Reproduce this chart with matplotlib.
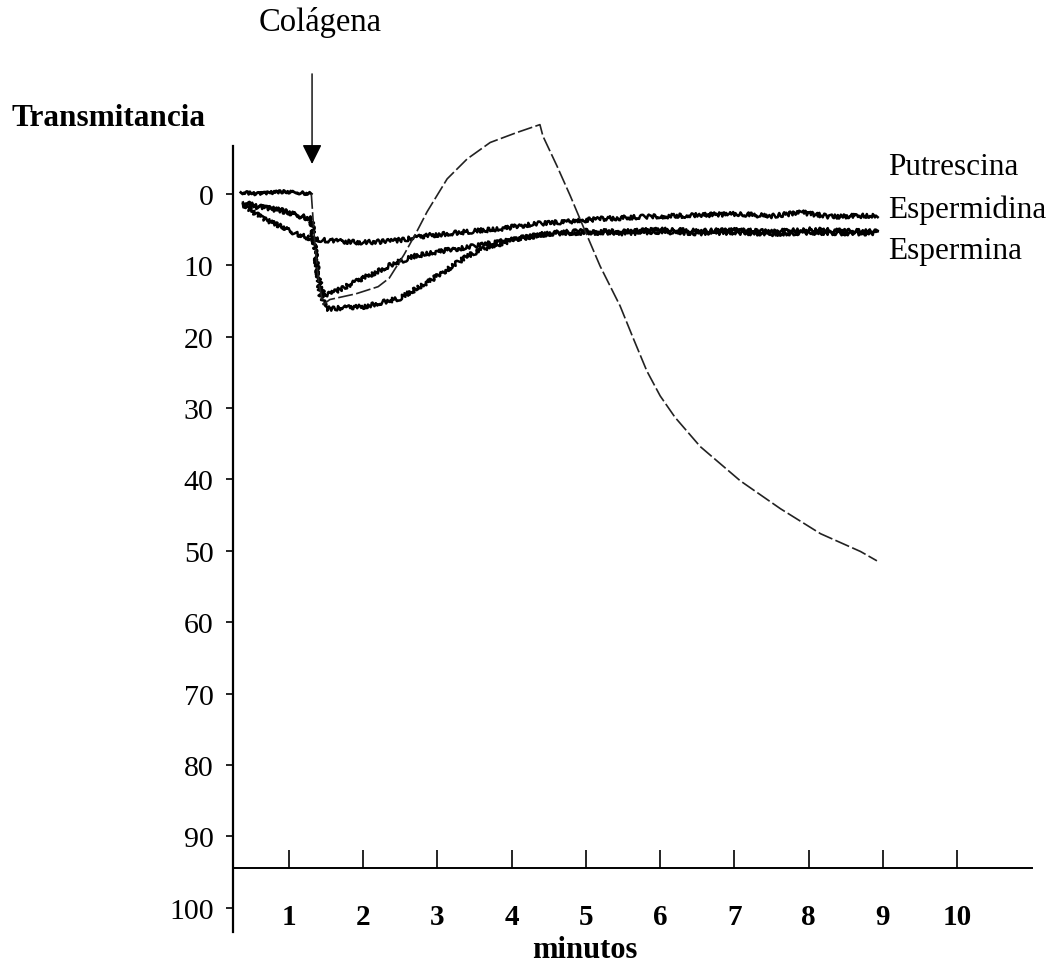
import matplotlib
matplotlib.use('Agg')
import matplotlib.pyplot as plt

plt.rcParams['font.family'] = ['Liberation Serif', 'DejaVu Serif']

# DATA (minutos, transmitancia)
control_t = [0.35, 0.6, 0.9, 1.1, 1.30, 1.34, 1.40, 1.46, 1.55, 1.9, 2.2, 2.35, 2.55, 2.72, 2.86,
             3.13, 3.40, 3.71, 4.07, 4.38, 4.42, 4.61, 4.79, 4.96, 5.19, 5.46, 5.64, 5.82, 6.0,
             6.2, 6.54, 7.08, 7.62, 8.16, 8.70, 8.92]
control_v = [-0.2, 0.0, -0.3, -0.2, 0.0, 6.0, 12.5, 15.5, 14.8, 14.0, 13.0, 11.8, 8.5, 5.3, 2.5,
             -2.1, -4.9, -7.2, -8.6, -9.7, -8.1, -3.9, 0.3, 4.5, 10.1, 15.7, 20.3, 24.8, 28.3,
             31.3, 35.4, 40.2, 44.1, 47.6, 50.1, 51.4]

putrescina_t = [0.38, 0.6, 0.9, 1.1, 1.3, 1.34, 1.40, 1.47, 1.6, 1.8, 2.1, 2.4, 2.7, 3.0, 3.5,
                4.0, 4.5, 5.0, 5.5, 6.0, 6.5, 7.0, 7.5, 8.0, 8.5, 8.93]
putrescina_v = [1.2, 1.8, 2.3, 2.9, 3.5, 7.0, 12.0, 14.3, 13.8, 12.8, 11.3, 9.8, 8.7, 8.1, 7.3,
                6.4, 5.5, 5.2, 5.3, 5.0, 5.2, 5.1, 5.3, 5.0, 5.2, 5.3]

espermidina_t = [0.38, 0.6, 0.9, 1.1, 1.3, 1.35, 1.42, 1.5, 2.0, 2.5, 2.94, 3.4, 3.62, 4.07,
                 4.5, 5.0, 5.5, 6.0, 6.5, 7.0, 7.5, 8.0, 8.5, 8.93]
espermidina_v = [1.4, 1.9, 2.4, 3.0, 3.6, 8.0, 14.0, 16.1, 15.8, 14.6, 11.9, 8.7, 7.7, 6.3,
                 5.6, 5.4, 5.5, 5.3, 5.5, 5.4, 5.6, 5.4, 5.5, 5.5]

espermina_t = [0.38, 0.65, 0.9, 1.1, 1.3, 1.6, 2.0, 2.4, 2.6, 2.9, 3.4, 3.84, 4.29, 4.74, 5.19,
               5.82, 6.5, 7.0, 7.5, 7.9, 8.3, 8.93]
espermina_v = [1.5, 3.5, 4.6, 5.6, 6.3, 6.6, 6.8, 6.6, 6.3, 5.8, 5.3, 4.9, 4.2, 3.9, 3.5,
               3.2, 3.0, 2.8, 3.1, 2.6, 3.2, 3.0]

etiquetas = ['Putrescina', 'Espermidina', 'Espermina']
etiqueta_y = [-3.8, 2.1, 8.0]
colagena_t = 1.31

fig = plt.figure(figsize=(10.62, 9.70), dpi=100)
ax = fig.add_axes([0.2194, 0.0381, 0.7524, 0.8103])

# polyamine traces: jagged recorder lines
for t, v in [(putrescina_t, putrescina_v), (espermidina_t, espermidina_v), (espermina_t, espermina_v)]:
    ln, = ax.plot(t, v, color='black', lw=1.8, clip_on=False)
    ln.set_sketch_params(scale=2.2, length=3.0, randomness=4.0)

# control: thick before collagen, thin broken line after
k = control_t.index(1.30)
ln, = ax.plot(control_t[:k + 1], control_v[:k + 1], color='black', lw=2.0, clip_on=False)
ln.set_sketch_params(scale=1.5, length=3.0, randomness=4.0)
ax.plot(control_t[k:], control_v[k:], color='#222222', lw=1.2, ls=(0, (9, 2)), clip_on=False)

ax.set_xlim(0.245, 11.01)
ax.set_ylim(103.4, -6.7)

for s in ['top', 'right']:
    ax.spines[s].set_visible(False)
ax.spines['bottom'].set_position(('data', 94.4))
ax.spines['left'].set_linewidth(1.6)
ax.spines['bottom'].set_linewidth(1.4)

ax.set_yticks(range(0, 101, 10))
ax.set_xticks(range(1, 11))
ax.tick_params(axis='y', direction='out', length=5, width=1.2, pad=9, labelsize=21.5)
ax.tick_params(axis='x', direction='in', length=13, width=1.2, pad=25, labelsize=21)
for lab in ax.get_xticklabels():
    lab.set_fontweight('bold')

ax.set_xlabel('minutos', fontsize=22, fontweight='bold')
ax.xaxis.set_label_coords(0.44, -0.004)

for txt, yv in zip(etiquetas, etiqueta_y):
    ax.text(9.07, yv, txt, fontsize=22.5, ha='left', va='center')

# collagen arrow
ax.annotate('', xy=(colagena_t, -3.8), xytext=(colagena_t, -17.2),
            arrowprops=dict(arrowstyle='-|>', mutation_scale=30, lw=1.0, color='black'),
            annotation_clip=False)
fig.text(320 / 1062, 1 - 23 / 970, 'Colágena', fontsize=23.5, ha='center', va='center')
fig.text(12 / 1062, 1 - 118 / 970, 'Transmitancia', fontsize=22.5, fontweight='bold',
         ha='left', va='center')

plt.savefig('out.png', dpi=100)
plt.close()
